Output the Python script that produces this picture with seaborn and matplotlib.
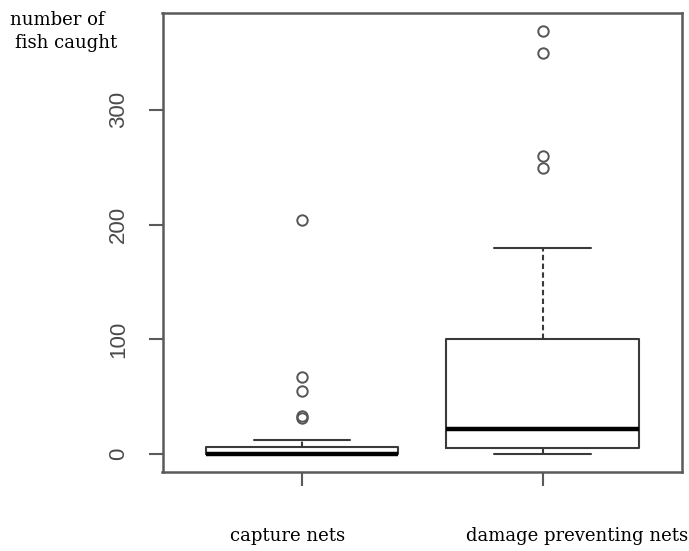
import numpy as np
import pandas as pd
import matplotlib
matplotlib.use("Agg")
import matplotlib.pyplot as plt
import seaborn as sns

# Fish caught per net, by net type
categories = ["capture nets", "damage preventing nets"]
capture_nets = [0, 0, 0, 0, 0, 0, 0, 0, 0, 0, 0, 0, 0,
                1, 2, 3, 4, 5, 6, 12, 31, 33, 55, 67, 204]
damage_preventing_nets = [0, 1, 2, 3, 4, 5, 8, 12, 15, 18, 22, 35, 50, 65, 80,
                          100, 180, 249, 260, 350, 369]
y_ticks = [0, 100, 200, 300]

df = pd.DataFrame({
    "net": [categories[0]] * len(capture_nets) + [categories[1]] * len(damage_preventing_nets),
    "fish": capture_nets + damage_preventing_nets,
})

sns.set_style("ticks")

W, H = 689, 551
fig = plt.figure(figsize=(W / 100, H / 100), dpi=100)
fig.patch.set_facecolor("white")
ax = fig.add_axes([162.5 / W, 1 - 472 / H, (682 - 162.5) / W, (472 - 12.7) / H])

line_col = "#3a3a3a"
sns.boxplot(
    data=df, x="net", y="fish", order=categories, ax=ax,
    width=0.8, fill=False, color=line_col, linewidth=1.5, whis=1.5,
    boxprops=dict(color=line_col, linewidth=1.5),
    medianprops=dict(color="black", linewidth=3.2),
    whiskerprops=dict(color=line_col, linewidth=1.5, linestyle=(0, (2.6, 1.6))),
    capprops=dict(color=line_col, linewidth=1.5, linestyle="-"),
    flierprops=dict(marker="o", markersize=7.5, markerfacecolor="none",
                    markeredgecolor="#555555", markeredgewidth=1.4),
    capwidths=0.4,
)

ax.set_xlim(-0.58, 1.58)
ax.set_ylim(-15.7, 384.7)
ax.set_yticks(y_ticks)
ax.set_yticklabels([str(t) for t in y_ticks], rotation=90, va="center",
                   fontsize=16, color="#4a4a4a", family="Liberation Sans")
ax.set_xticks([0, 1])
ax.set_xticklabels(["", ""])
ax.set_xlabel("")
ax.set_ylabel("")

for side in ["left", "right", "top", "bottom"]:
    ax.spines[side].set_visible(True)
    ax.spines[side].set_color("#5a5a5a")
    ax.spines[side].set_linewidth(1.8)

ax.tick_params(axis="y", length=10, width=1.5, color="#5a5a5a", pad=14)
ax.tick_params(axis="x", length=10, width=1.5, color="#5a5a5a")

serif = dict(family="DejaVu Serif", fontsize=13, color="black")
fig.text(288 / W, 1 - 541 / H, categories[0], ha="center", va="baseline", **serif)
fig.text(577 / W, 1 - 541 / H, categories[1], ha="center", va="baseline", **serif)

fig.text(10 / W, 1 - 25 / H, "number of", ha="left", va="baseline", **serif)
fig.text(15 / W, 1 - 48 / H, "fish caught", ha="left", va="baseline", **serif)

fig.savefig("out.png", dpi=100, facecolor="white")
